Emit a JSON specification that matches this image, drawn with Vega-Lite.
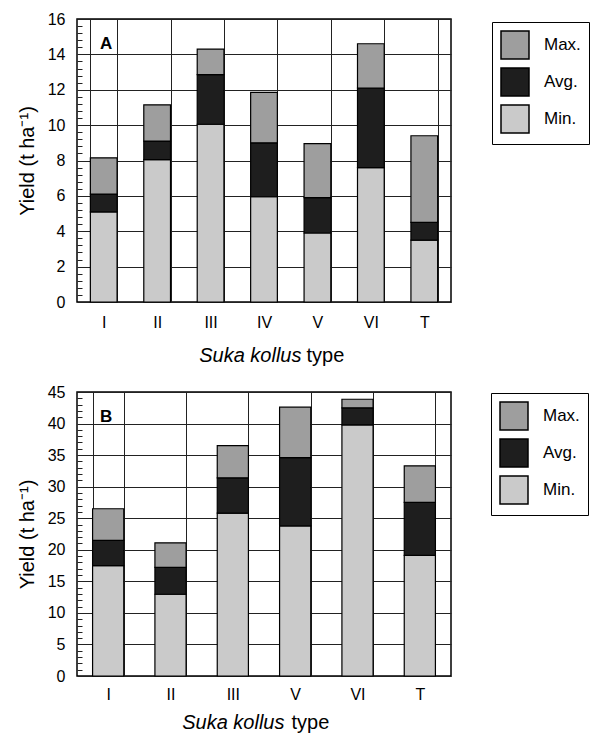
{
  "$schema": "https://vega.github.io/schema/vega-lite/v6.json",
  "padding": {"left": 16, "top": 10, "right": 5, "bottom": 5},
  "spacing": 17,
  "config": {
    "font": "Liberation Sans",
    "view": {"stroke": "black", "strokeWidth": 1.5},
    "axis": {"labelColor": "black", "titleColor": "black", "gridColor": "#222", "gridWidth": 1, "gridOpacity": 1, "domain": false, "titleFontWeight": "normal"}
  },
  "datasets": {
    "a": [
      {"type": "I", "level": "Min.", "low": 0, "high": 5.1},
      {"type": "I", "level": "Avg.", "low": 5.1, "high": 6.1},
      {"type": "I", "level": "Max.", "low": 6.1, "high": 8.15},
      {"type": "II", "level": "Min.", "low": 0, "high": 8.05},
      {"type": "II", "level": "Avg.", "low": 8.05, "high": 9.1},
      {"type": "II", "level": "Max.", "low": 9.1, "high": 11.15},
      {"type": "III", "level": "Min.", "low": 0, "high": 10.05},
      {"type": "III", "level": "Avg.", "low": 10.05, "high": 12.85},
      {"type": "III", "level": "Max.", "low": 12.85, "high": 14.3},
      {"type": "IV", "level": "Min.", "low": 0, "high": 5.95},
      {"type": "IV", "level": "Avg.", "low": 5.95, "high": 9.0},
      {"type": "IV", "level": "Max.", "low": 9.0, "high": 11.85},
      {"type": "V", "level": "Min.", "low": 0, "high": 3.9},
      {"type": "V", "level": "Avg.", "low": 3.9, "high": 5.9},
      {"type": "V", "level": "Max.", "low": 5.9, "high": 8.95},
      {"type": "VI", "level": "Min.", "low": 0, "high": 7.6},
      {"type": "VI", "level": "Avg.", "low": 7.6, "high": 12.1},
      {"type": "VI", "level": "Max.", "low": 12.1, "high": 14.6},
      {"type": "T", "level": "Min.", "low": 0, "high": 3.5},
      {"type": "T", "level": "Avg.", "low": 3.5, "high": 4.5},
      {"type": "T", "level": "Max.", "low": 4.5, "high": 9.4}
    ],
    "b": [
      {"type": "I", "level": "Min.", "low": 0, "high": 17.5},
      {"type": "I", "level": "Avg.", "low": 17.5, "high": 21.5},
      {"type": "I", "level": "Max.", "low": 21.5, "high": 26.5},
      {"type": "II", "level": "Min.", "low": 0, "high": 12.95},
      {"type": "II", "level": "Avg.", "low": 12.95, "high": 17.2},
      {"type": "II", "level": "Max.", "low": 17.2, "high": 21.1},
      {"type": "III", "level": "Min.", "low": 0, "high": 25.8},
      {"type": "III", "level": "Avg.", "low": 25.8, "high": 31.4},
      {"type": "III", "level": "Max.", "low": 31.4, "high": 36.5},
      {"type": "V", "level": "Min.", "low": 0, "high": 23.8},
      {"type": "V", "level": "Avg.", "low": 23.8, "high": 34.6},
      {"type": "V", "level": "Max.", "low": 34.6, "high": 42.6},
      {"type": "VI", "level": "Min.", "low": 0, "high": 39.8},
      {"type": "VI", "level": "Avg.", "low": 39.8, "high": 42.5},
      {"type": "VI", "level": "Max.", "low": 42.5, "high": 43.85},
      {"type": "T", "level": "Min.", "low": 0, "high": 19.1},
      {"type": "T", "level": "Avg.", "low": 19.1, "high": 27.5},
      {"type": "T", "level": "Max.", "low": 27.5, "high": 33.3}
    ]
  },
  "resolve": {"scale": {"color": "independent"}, "legend": {"color": "independent"}},
  "vconcat": [
    {
      "width": 374,
      "height": 283,
      "title": {"text": "A", "anchor": "start", "frame": "group", "fontSize": 17, "fontWeight": "bold", "color": "black", "baseline": "alphabetic", "offset": -55, "dx": 23},
      "data": {"name": "a"},
      "resolve": {"axis": {"x": "independent"}},
      "layer": [
        {
          "mark": {"type": "bar", "stroke": "black", "strokeWidth": 1.2},
          "encoding": {
            "x": {
              "field": "type", "type": "nominal",
              "sort": ["I", "II", "III", "IV", "V", "VI", "T"],
              "scale": {"paddingInner": 0.5, "paddingOuter": 0.25},
              "axis": {"orient": "bottom", "title": "type", "titleFontSize": 20, "titleAlign": "left", "titleX": 229, "titleY": 59, "titleBaseline": "alphabetic", "titleAnchor": null, "labelAngle": 0, "labelFontSize": 16, "labelPadding": 12, "ticks": false, "grid": true, "tickBand": "extent"}
            },
            "y": {
              "field": "low", "type": "quantitative",
              "scale": {"domain": [0, 16], "nice": false},
              "axis": {
                "title": "Yield (t ha⁻¹)", "titleFontSize": 20, "titlePadding": 10,
                "values": [0, 0.4, 0.8, 1.2, 1.6, 2, 2.4, 2.8, 3.2, 3.6, 4, 4.4, 4.8, 5.2, 5.6, 6, 6.4, 6.8, 7.2, 7.6, 8, 8.4, 8.8, 9.2, 9.6, 10, 10.4, 10.8, 11.2, 11.6, 12, 12.4, 12.8, 13.2, 13.6, 14, 14.4, 14.8, 15.2, 15.6, 16],
                "tickCount": 1000,
                "tickMinStep": 0.1,
                "labelExpr": "abs(datum.value / 2 - round(datum.value / 2)) < 0.001 ? format(datum.value, 'd') : ''",
                "labelFontSize": 16, "labelPadding": 17,
                "tickSize": -5, "tickColor": "#222",
                "tickOpacity": {"condition": {"test": "abs(datum.value / 2 - round(datum.value / 2)) < 0.001", "value": 0}, "value": 1},
                "gridOpacity": {"condition": {"test": "abs(datum.value / 2 - round(datum.value / 2)) < 0.001", "value": 1}, "value": 0}
              }
            },
            "y2": {"field": "high"},
            "color": {
              "field": "level", "type": "nominal",
              "scale": {"domain": ["Max.", "Avg.", "Min."], "range": ["#9e9e9e", "#1e1e1e", "#cacaca"]},
              "legend": {"orient": "none", "legendX": 415, "legendY": 3, "title": null, "strokeColor": "black", "padding": 8, "symbolType": "square", "symbolSize": 784, "symbolStrokeColor": "black", "symbolStrokeWidth": 1.5, "symbolOpacity": 1, "labelFontSize": 17, "labelColor": "black", "labelOffset": 14, "rowPadding": 3}
            }
          }
        },
        {
          "mark": {"type": "rule", "opacity": 0},
          "encoding": {
            "x": {
              "field": "type", "type": "nominal",
              "sort": ["I", "II", "III", "IV", "V", "VI", "T"],
              "axis": {"orient": "bottom", "title": "Suka kollus", "titleFontSize": 20, "titleFontStyle": "italic", "titleAlign": "right", "titleX": 224, "titleY": 59, "titleBaseline": "alphabetic", "titleAnchor": null, "labels": false, "ticks": false, "grid": false, "domain": false}
            }
          }
        }
      ]
    },
    {
      "width": 374,
      "height": 284,
      "title": {"text": "B", "anchor": "start", "frame": "group", "fontSize": 17, "fontWeight": "bold", "color": "black", "baseline": "alphabetic", "offset": -55, "dx": 23},
      "data": {"name": "b"},
      "resolve": {"axis": {"x": "independent"}},
      "layer": [
        {
          "mark": {"type": "bar", "stroke": "black", "strokeWidth": 1.2},
          "encoding": {
            "x": {
              "field": "type", "type": "nominal",
              "sort": ["I", "II", "III", "V", "VI", "T"],
              "scale": {"paddingInner": 0.5, "paddingOuter": 0.25},
              "axis": {"orient": "bottom", "title": "type", "titleFontSize": 20, "titleAlign": "left", "titleX": 214, "titleY": 52, "titleBaseline": "alphabetic", "titleAnchor": null, "labelAngle": 0, "labelFontSize": 16, "labelPadding": 10, "ticks": false, "grid": true, "tickBand": "extent"}
            },
            "y": {
              "field": "low", "type": "quantitative",
              "scale": {"domain": [0, 45], "nice": false},
              "axis": {
                "title": "Yield (t ha⁻¹)", "titleFontSize": 20, "titlePadding": 10,
                "values": [0, 1, 2, 3, 4, 5, 6, 7, 8, 9, 10, 11, 12, 13, 14, 15, 16, 17, 18, 19, 20, 21, 22, 23, 24, 25, 26, 27, 28, 29, 30, 31, 32, 33, 34, 35, 36, 37, 38, 39, 40, 41, 42, 43, 44, 45],
                "tickCount": 1000,
                "format": "d",
                "labelExpr": "datum.value % 5 === 0 ? datum.label : ''",
                "labelFontSize": 16, "labelPadding": 17,
                "tickSize": -5, "tickColor": "#222",
                "tickOpacity": {"condition": {"test": "datum.value % 5 === 0", "value": 0}, "value": 1},
                "gridOpacity": {"condition": {"test": "datum.value % 5 === 0", "value": 1}, "value": 0}
              }
            },
            "y2": {"field": "high"},
            "color": {
              "field": "level", "type": "nominal",
              "scale": {"domain": ["Max.", "Avg.", "Min."], "range": ["#9e9e9e", "#1e1e1e", "#cacaca"]},
              "legend": {"orient": "none", "legendX": 414, "legendY": 1, "title": null, "strokeColor": "black", "padding": 8, "symbolType": "square", "symbolSize": 784, "symbolStrokeColor": "black", "symbolStrokeWidth": 1.5, "symbolOpacity": 1, "labelFontSize": 17, "labelColor": "black", "labelOffset": 14, "rowPadding": 3}
            }
          }
        },
        {
          "mark": {"type": "rule", "opacity": 0},
          "encoding": {
            "x": {
              "field": "type", "type": "nominal",
              "sort": ["I", "II", "III", "V", "VI", "T"],
              "axis": {"orient": "bottom", "title": "Suka kollus", "titleFontSize": 20, "titleFontStyle": "italic", "titleAlign": "right", "titleX": 207, "titleY": 52, "titleBaseline": "alphabetic", "titleAnchor": null, "labels": false, "ticks": false, "grid": false, "domain": false}
            }
          }
        }
      ]
    }
  ]
}
